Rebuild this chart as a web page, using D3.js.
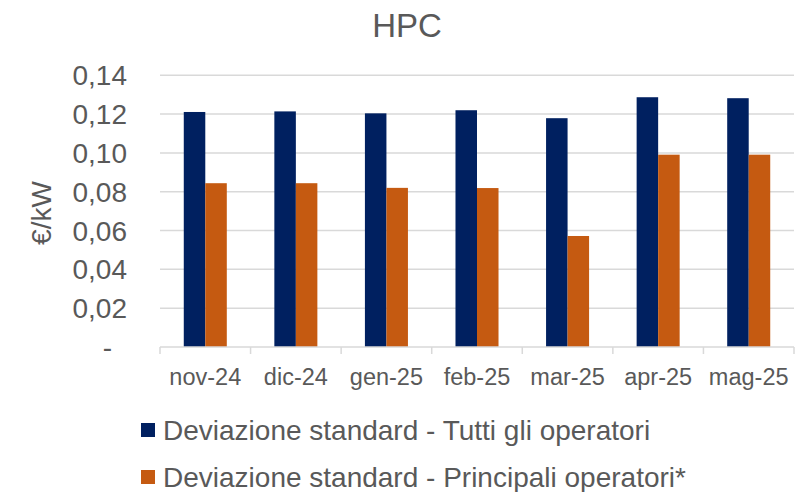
<!DOCTYPE html>
<html>
<head>
<meta charset="utf-8">
<script src="https://cdn.jsdelivr.net/npm/d3@7"></script>
<style>
  body { margin: 0; background: #fff; }
  text { font-family: "Liberation Sans", Arial, sans-serif; fill: #595959; }
</style>
</head>
<body>
<div class="canvas"></div>
<script>
// data
const months = ["nov-24", "dic-24", "gen-25", "feb-25", "mar-25", "apr-25", "mag-25"];
const tuttiOperatori = [0.1211, 0.1214, 0.1204, 0.1220, 0.1179, 0.1287, 0.1282];
const principaliOperatori = [0.0844, 0.0844, 0.0820, 0.0819, 0.0572, 0.0991, 0.0991];
const seriesNames = ["Deviazione standard - Tutti gli operatori", "Deviazione standard - Principali operatori*"];
const yTicks = [0, 0.02, 0.04, 0.06, 0.08, 0.10, 0.12, 0.14];

const dims = { width: 803, height: 492 };
const plot = { left: 160, right: 794, top: 75.3, bottom: 347 };
const colors = ["#002060", "#C55A11"];

const svg = d3.select(".canvas")
  .append("svg")
  .attr("width", dims.width)
  .attr("height", dims.height);

// scales
const x0 = d3.scaleBand()
  .domain(months)
  .range([plot.left, plot.right])
  .paddingInner(0.525)
  .paddingOuter(0.2625);

const x1 = d3.scaleBand()
  .domain([0, 1])
  .range([0, x0.bandwidth()]);

const y = d3.scaleLinear()
  .domain([0, 0.14])
  .range([plot.bottom, plot.top]);

const fmt = (v) => v === 0 ? "-" : d3.format(".2f")(v).replace(".", ",");

// title
svg.append("text")
  .attr("x", 407)
  .attr("y", 37)
  .attr("text-anchor", "middle")
  .style("font-size", "33px")
  .text("HPC");

// gridlines
svg.append("g")
  .selectAll("line")
  .data(yTicks.filter((d) => d > 0))
  .enter()
  .append("line")
  .attr("x1", plot.left)
  .attr("x2", plot.right)
  .attr("y1", (d) => y(d))
  .attr("y2", (d) => y(d))
  .attr("stroke", "#d9d9d9")
  .attr("stroke-width", 1.5);

// y tick labels
svg.append("g")
  .selectAll("text")
  .data(yTicks)
  .enter()
  .append("text")
  .attr("x", (d) => d === 0 ? 112 : 127)
  .attr("y", (d) => y(d))
  .attr("dy", "0.36em")
  .attr("text-anchor", "end")
  .style("font-size", "28px")
  .text(fmt);

// y axis title
svg.append("text")
  .attr("transform", "translate(41, 213) rotate(-90)")
  .attr("text-anchor", "middle")
  .attr("dy", "0.36em")
  .style("font-size", "28px")
  .text("€/kW");

// bars
const groups = svg.append("g")
  .selectAll("g")
  .data(months)
  .enter()
  .append("g")
  .attr("transform", (d) => `translate(${x0(d)}, 0)`);

groups.selectAll("rect")
  .data((d, i) => [tuttiOperatori[i], principaliOperatori[i]])
  .enter()
  .append("rect")
  .attr("x", (d, i) => x1(i))
  .attr("width", x1.bandwidth())
  .attr("y", (d) => y(d))
  .attr("height", (d) => y(0) - y(d))
  .attr("fill", (d, i) => colors[i]);

// x axis line and ticks
const step = x0.step();
svg.append("line")
  .attr("x1", plot.left)
  .attr("x2", plot.right)
  .attr("y1", plot.bottom)
  .attr("y2", plot.bottom)
  .attr("stroke", "#d9d9d9")
  .attr("stroke-width", 1.5);

svg.append("g")
  .selectAll("line")
  .data(d3.range(months.length + 1))
  .enter()
  .append("line")
  .attr("x1", (i) => plot.left + i * step)
  .attr("x2", (i) => plot.left + i * step)
  .attr("y1", plot.bottom)
  .attr("y2", plot.bottom + 7)
  .attr("stroke", "#d9d9d9")
  .attr("stroke-width", 1.5);

// x labels
svg.append("g")
  .selectAll("text")
  .data(months)
  .enter()
  .append("text")
  .attr("x", (d) => x0(d) + x0.bandwidth() / 2)
  .attr("y", 385)
  .attr("text-anchor", "middle")
  .style("font-size", "23.5px")
  .text((d) => d);

// legend
const legend = svg.append("g")
  .selectAll("g")
  .data(seriesNames)
  .enter()
  .append("g")
  .attr("transform", (d, i) => `translate(141, ${430 + i * 47})`);

legend.append("rect")
  .attr("x", 0)
  .attr("y", -7)
  .attr("width", 14)
  .attr("height", 14)
  .attr("fill", (d, i) => colors[i]);

legend.append("text")
  .attr("x", 22)
  .attr("y", 0)
  .attr("dy", "0.36em")
  .style("font-size", "28px")
  .text((d) => d);
</script>
</body>
</html>
